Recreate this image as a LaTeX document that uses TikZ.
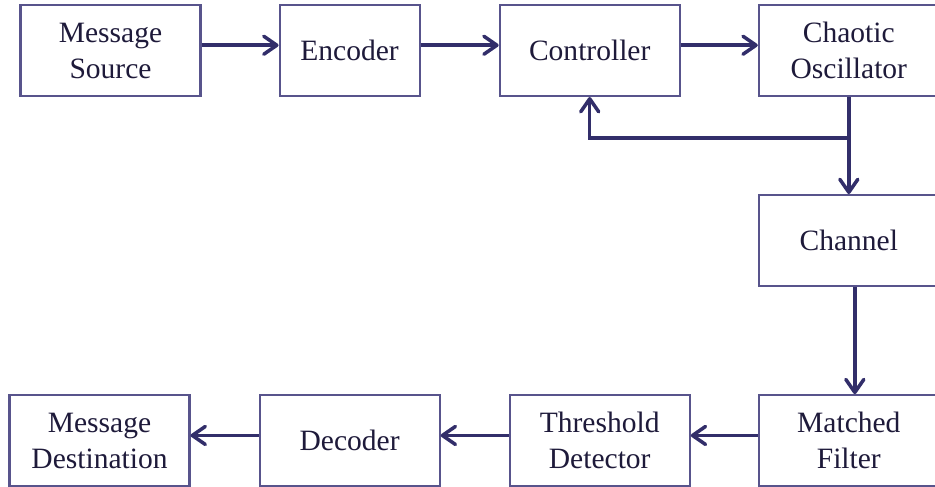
\documentclass[tikz,border=0pt]{standalone}
\usepackage{fontspec}
\setmainfont{Liberation Serif}
\usepackage{xcolor}
\usepackage{tikz}
\usetikzlibrary{positioning, arrows.meta, shadows}
\definecolor{boxline}{RGB}{88,84,140}
\definecolor{arrowline}{RGB}{50,46,106}
\definecolor{boxtext}{RGB}{30,26,58}
\tikzstyle{block} = [rectangle, minimum width=3.6cm, minimum height=1.82cm, text centered, align=center, draw=boxline, line width=1.2pt, fill=white, text=boxtext, font=\fontsize{16.8}{20.5}\selectfont, drop shadow={shadow xshift=0.7pt, shadow yshift=-0.7pt, opacity=0.35}]
\tikzstyle{arrow} = [draw=arrowline, line width=2pt, -{Straight Barb[length=2.6mm, width=3.6mm, round]}]
\tikzstyle{raised} = [transform canvas={yshift=3pt}]

\begin{document}
\begin{tikzpicture}
				\useasboundingbox (-2.21,1.01) rectangle (16.49,-8.71);
				\node (src) [block] {Message\\Source};
				\node (enc) [block, minimum width=2.8cm, right=1.54cm of src] {Encoder};
				\node (ctrl) [block, right=1.56cm of enc] {Controller};
				\node (osc) [block, right=1.54cm of ctrl] {Chaotic\\Oscillator};
				\node (chan) [block, below=1.94cm of osc] {Channel};
				\node (mf) [block, below=2.14cm of chan] {Matched\\Filter};
				\node (td) [block, left=1.34cm of mf] {Threshold\\Detector};
				\node (dec) [block, left=1.36cm of td] {Decoder};
				\node (dst) [block, left=1.36cm of dec] {Message\\Destination};
				\coordinate (fb) at ([yshift=-0.82cm]osc.south);

				\draw [arrow, raised] (src) -- (enc);
				\draw [arrow, raised] (enc) -- (ctrl);
				\draw [arrow, raised] (ctrl) -- (osc);
				\draw [arrow] (osc.south) -- (chan.north);
				\draw [arrow] (fb) -| (ctrl.south);
				\draw [arrow] ([xshift=0.12cm]chan.south) -- ([xshift=0.12cm]mf.north);
				\draw [arrow, raised] (mf) -- (td);
				\draw [arrow, raised] (td) -- (dec);
				\draw [arrow, raised] (dec) -- (dst);

			\end{tikzpicture}
\end{document}
